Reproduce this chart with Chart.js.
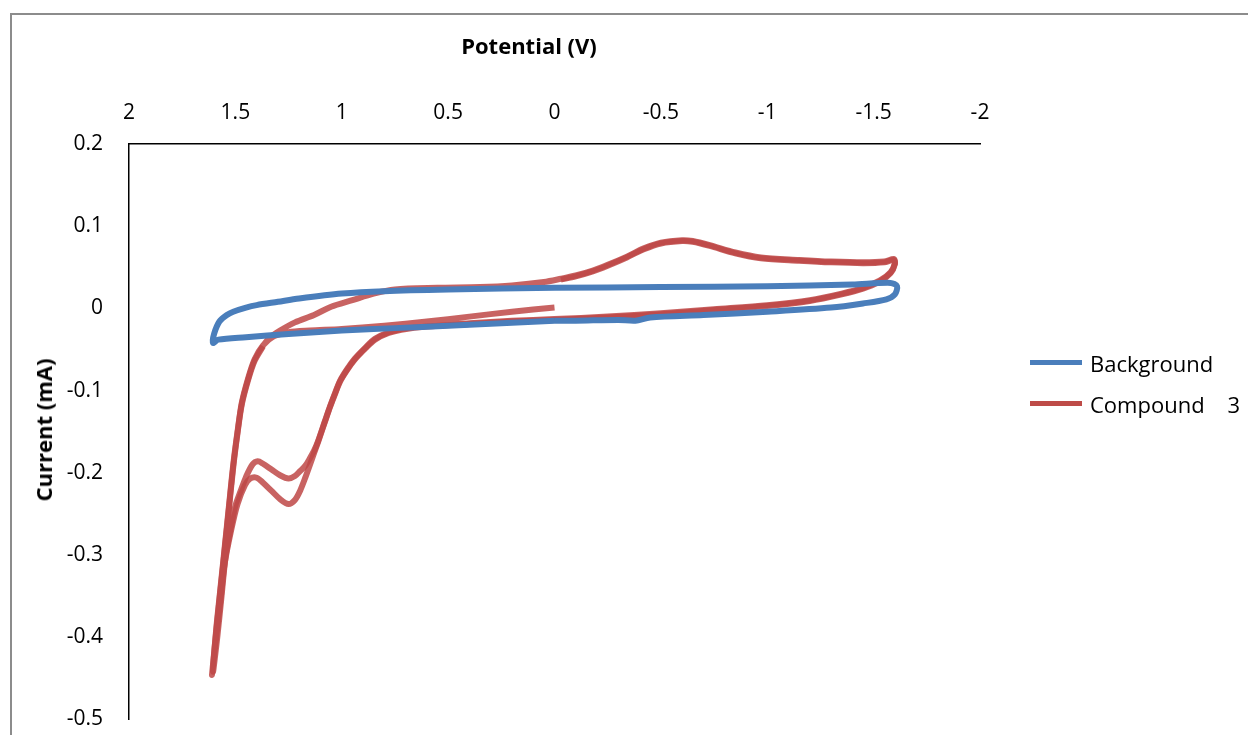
<!DOCTYPE html>
<html>
<head>
<meta charset="utf-8">
<script src="https://cdn.jsdelivr.net/npm/chart.js@4"></script>
<style>
  html, body { margin: 0; padding: 0; background: #fff; overflow: hidden; }
  body { width: 1248px; height: 735px; position: relative; font-family: "Open Sans", sans-serif; }
  #frame { position: absolute; left: 10px; top: 13px; width: 1400px; height: 900px; border: 2px solid #8c8c8c; }
  #cv { position: absolute; left: 0; top: 0; }
  .axis-title { position: absolute; font-weight: bold; font-size: 22px; color: #000; white-space: nowrap; }
  #xTitle { left: 529px; top: 45px; transform: translate(-50%, -50%); }
  #yTitle { left: 43px; top: 430px; transform: translate(-50%, -50%) rotate(-90deg); }
  #legend { position: absolute; left: 1030px; top: 342px; font-size: 22px; color: #000; }
  .item { display: flex; align-items: center; height: 41px; white-space: pre; }
  .swatch { width: 52px; height: 5px; margin-right: 8px; }
</style>
</head>
<body>
<div id="frame"></div>
<canvas id="cv" width="1248" height="758"></canvas>
<div id="xTitle" class="axis-title">Potential (V)</div>
<div id="yTitle" class="axis-title">Current (mA)</div>
<div id="legend"></div>
<script>
// axis ticks
const xTicks = [2, 1.5, 1, 0.5, 0, -0.5, -1, -1.5, -2];
const yTicks = [0.2, 0.1, 0, -0.1, -0.2, -0.3, -0.4, -0.5];

// Background scan (V, mA)
const bgPotential = [0.00, 0.25, 0.50, 0.75, 1.00, 1.25, 1.45, 1.58, 1.605, 1.60, 1.575, 1.54, 1.51, 1.45, 1.40, 1.30, 1.20, 1.00, 0.80, 0.50, 0.00, -0.50, -1.00, -1.40, -1.58, -1.61, -1.60, -1.56, -1.45, -1.30, -1.00, -0.70, -0.45, -0.38, -0.30, -0.10, 0.00];
const bgCurrent = [-0.015, -0.018, -0.021, -0.024, -0.027, -0.031, -0.035, -0.038, -0.042, -0.031, -0.016, -0.008, -0.004, 0.001, 0.004, 0.008, 0.012, 0.018, 0.021, 0.023, 0.025, 0.026, 0.027, 0.029, 0.031, 0.027, 0.017, 0.011, 0.006, 0.001, -0.004, -0.008, -0.011, -0.015, -0.014, -0.015, -0.015];

// Compound 3, first cycle
const cyc1Potential = [0.00, 0.20, 0.40, 0.60, 0.80, 1.00, 1.15, 1.25, 1.32, 1.37, 1.41, 1.44, 1.47, 1.49, 1.51, 1.53, 1.55, 1.57, 1.59, 1.605,
  1.585, 1.565, 1.545, 1.52, 1.50, 1.475, 1.45, 1.42, 1.395, 1.37, 1.33, 1.29, 1.25, 1.22, 1.196, 1.17, 1.149, 1.13, 1.112,
  1.079, 1.055, 1.03, 1.008, 0.975, 0.938, 0.89, 0.844, 0.78, 0.72, 0.60, 0.40, 0.20, 0.00,
  -0.25, -0.50, -0.75, -1.00, -1.20, -1.35, -1.45, -1.53, -1.58, -1.60, -1.595,
  -1.55, -1.45, -1.30, -1.15, -0.97, -0.85, -0.73, -0.65, -0.60, -0.50, -0.42, -0.34, -0.25, -0.18, -0.10, -0.03, 0.05, 0.20, 0.35, 0.55, 0.75, 0.85, 0.95, 1.05, 1.13, 1.22, 1.29, 1.34, 1.37];
const cyc1Current = [0.001, -0.004, -0.010, -0.016, -0.021, -0.025, -0.027, -0.029, -0.034, -0.045, -0.062, -0.085, -0.115, -0.150, -0.190, -0.240, -0.290, -0.340, -0.390, -0.442,
  -0.400, -0.350, -0.300, -0.265, -0.240, -0.222, -0.205, -0.190, -0.186, -0.189, -0.196, -0.203, -0.207, -0.204, -0.198, -0.191, -0.182, -0.173, -0.162,
  -0.137, -0.119, -0.102, -0.088, -0.074, -0.061, -0.048, -0.037, -0.029, -0.025, -0.021, -0.018, -0.015, -0.013,
  -0.010, -0.006, -0.001, 0.004, 0.010, 0.018, 0.025, 0.034, 0.044, 0.055, 0.060,
  0.057, 0.056, 0.057, 0.059, 0.062, 0.068, 0.077, 0.082, 0.083, 0.080, 0.073, 0.063, 0.053, 0.046, 0.040, 0.036, 0.032, 0.028, 0.026, 0.025, 0.023, 0.018, 0.010, 0.002, -0.008, -0.017, -0.027, -0.036, -0.045];

// Compound 3, second cycle
const cyc2Potential = [1.37, 1.41, 1.44, 1.47, 1.49, 1.51, 1.53, 1.55, 1.57, 1.59, 1.61,
  1.59, 1.57, 1.55, 1.52, 1.49, 1.455, 1.43, 1.40, 1.37, 1.33, 1.29, 1.25, 1.22, 1.196, 1.17, 1.149, 1.13, 1.112,
  1.079, 1.055, 1.03, 1.008, 0.975, 0.938, 0.89, 0.844, 0.78, 0.72, 0.60, 0.40, 0.20, 0.00,
  -0.25, -0.50, -0.75, -1.00, -1.20, -1.35, -1.45, -1.53, -1.58, -1.60, -1.595,
  -1.55, -1.45, -1.30, -1.15, -0.97, -0.85, -0.73, -0.65, -0.60, -0.50, -0.42, -0.34, -0.25, -0.18, -0.10, -0.03];
const cyc2Current = [-0.046, -0.064, -0.087, -0.117, -0.152, -0.193, -0.243, -0.293, -0.343, -0.393, -0.446,
  -0.400, -0.355, -0.310, -0.270, -0.238, -0.215, -0.207, -0.206, -0.212, -0.222, -0.232, -0.238, -0.233, -0.222, -0.205, -0.190, -0.176, -0.163,
  -0.138, -0.120, -0.103, -0.089, -0.075, -0.062, -0.049, -0.038, -0.030, -0.026, -0.022, -0.019, -0.016, -0.014,
  -0.011, -0.007, -0.002, 0.003, 0.009, 0.017, 0.024, 0.033, 0.043, 0.054, 0.059,
  0.056, 0.055, 0.056, 0.058, 0.061, 0.067, 0.076, 0.081, 0.082, 0.079, 0.072, 0.062, 0.052, 0.045, 0.039, 0.035];

const toPoints = (xs, ys) => xs.map((x, i) => ({ x: x, y: ys[i] }));

const FONT = { family: "'Open Sans', sans-serif", size: 21 };
const BLUE = "#4a7ebb";
const RED = "rgba(190, 72, 70, 0.85)";

const chart = new Chart(document.getElementById("cv"), {
  type: "scatter",
  data: {
    datasets: [
      {
        label: "Background",
        data: toPoints(bgPotential, bgCurrent),
        borderColor: BLUE,
        legendColor: BLUE,
        borderWidth: 6,
        showLine: true,
        pointRadius: 0,
        tension: 0.3
      },
      {
        label: "Compound    3",
        data: toPoints(cyc1Potential, cyc1Current),
        borderColor: RED,
        legendColor: "#be4b48",
        borderWidth: 6,
        showLine: true,
        pointRadius: 0,
        tension: 0.3
      },
      {
        label: "",
        data: toPoints(cyc2Potential, cyc2Current),
        borderColor: RED,
        borderWidth: 6,
        showLine: true,
        pointRadius: 0,
        tension: 0.3
      }
    ]
  },
  options: {
    responsive: false,
    animation: false,
    devicePixelRatio: 1,
    layout: { padding: { left: 0, top: 0, right: 268, bottom: 21 } },
    plugins: {
      legend: { display: false },
      tooltip: { enabled: false }
    },
    scales: {
      x: {
        type: "linear",
        position: "top",
        reverse: true,
        min: -2,
        max: 2,
        afterFit: s => { s.height = 144; },
        afterBuildTicks: s => { s.ticks = xTicks.map(v => ({ value: v })); },
        ticks: {
          font: FONT,
          color: "#000",
          padding: 18,
          callback: v => String(Number(v.toFixed(1)))
        },
        grid: { display: false, drawTicks: false },
        border: { display: true, color: "#000", width: 1.5 }
      },
      y: {
        type: "linear",
        position: "left",
        min: -0.5,
        max: 0.2,
        afterFit: s => { s.width = 129; },
        afterBuildTicks: s => { s.ticks = yTicks.map(v => ({ value: v })); },
        ticks: {
          font: FONT,
          color: "#000",
          padding: 26,
          callback: v => String(Number(v.toFixed(1)))
        },
        grid: { display: false, drawTicks: false },
        border: { display: true, color: "#000", width: 1.5 }
      }
    }
  }
});

// legend built from the labelled datasets
const legend = document.getElementById("legend");
chart.data.datasets.filter(d => d.label).forEach(d => {
  const row = document.createElement("div");
  row.className = "item";
  const sw = document.createElement("span");
  sw.className = "swatch";
  sw.style.background = d.legendColor;
  const txt = document.createElement("span");
  txt.textContent = d.label;
  row.appendChild(sw);
  row.appendChild(txt);
  legend.appendChild(row);
});
</script>
</body>
</html>
